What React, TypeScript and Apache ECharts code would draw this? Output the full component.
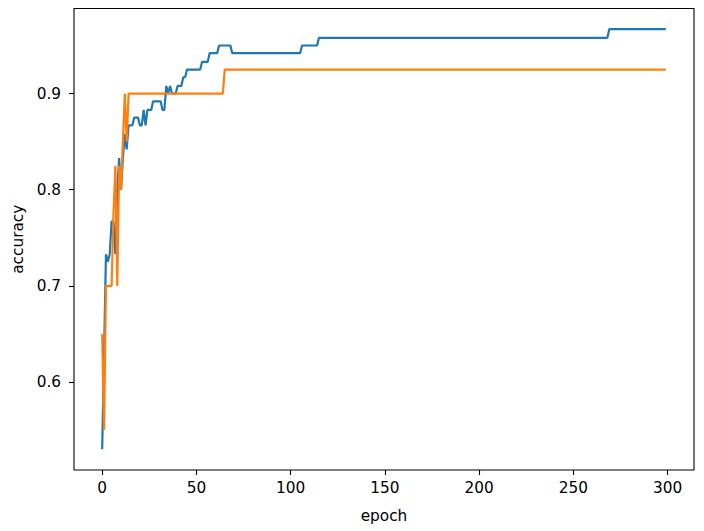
import React, { useEffect, useRef } from "react";
import * as echarts from "echarts";

// Change points of each curve: [epoch, accuracy]; straight lines between them
const blueEpochs = [0, 1, 2, 3, 4, 5, 6, 7, 8, 9, 10, 11, 12, 13, 14, 16, 17, 19, 20, 21, 22, 23, 24, 26, 27, 31, 32, 33, 34, 35, 36, 37, 39, 40, 42, 43, 44, 45, 52, 53, 56, 57, 61, 62, 68, 69, 105, 106, 114, 115, 268, 269, 299];
const blueAcc = [0.53, 0.63, 0.733, 0.725, 0.733, 0.767, 0.767, 0.733, 0.8, 0.833, 0.8, 0.833, 0.858, 0.842, 0.867, 0.867, 0.875, 0.875, 0.867, 0.867, 0.883, 0.867, 0.883, 0.883, 0.892, 0.892, 0.883, 0.883, 0.908, 0.9, 0.908, 0.9, 0.9, 0.908, 0.908, 0.917, 0.917, 0.925, 0.925, 0.933, 0.933, 0.942, 0.942, 0.95, 0.95, 0.942, 0.942, 0.95, 0.95, 0.958, 0.958, 0.967, 0.967];

const orangeEpochs = [0, 1, 2, 5, 6, 7, 8, 9, 10, 11, 12, 13, 14, 64, 65, 299];
const orangeAcc = [0.65, 0.55, 0.7, 0.7, 0.775, 0.825, 0.7, 0.825, 0.8, 0.85, 0.9, 0.85, 0.9, 0.9, 0.925, 0.925];

const xTicks = [0, 50, 100, 150, 200, 250, 300];
const yTicks = [0.6, 0.7, 0.8, 0.9];

const FONT = "DejaVu Sans";
const FS = 15.3;

export default function App() {
  const ref = useRef<HTMLDivElement>(null);
  useEffect(() => {
    if (!ref.current) return;
    const chart = echarts.init(ref.current, undefined, { renderer: "svg" });
    const blue = blueEpochs.map((e, i) => [e, blueAcc[i]]);
    const orange = orangeEpochs.map((e, i) => [e, orangeAcc[i]]);
    chart.setOption({
      animation: false,
      backgroundColor: "#ffffff",
      grid: {
        left: 74,
        right: 10,
        top: 8.5,
        bottom: 61,
        show: true,
        borderColor: "#000000",
        borderWidth: 1.1,
        backgroundColor: "transparent",
      },
      xAxis: {
        type: "value",
        min: -14.95,
        max: 313.95,
        name: "epoch",
        nameLocation: "middle",
        nameGap: 38,
        nameTextStyle: { fontFamily: FONT, fontSize: FS, color: "#000" },
        axisLine: { show: false, onZero: false },
        splitLine: { show: false },
        axisTick: {
          show: true,
          customValues: xTicks,
          length: 5,
          lineStyle: { color: "#000", width: 1.1 },
        },
        axisLabel: {
          customValues: xTicks,
          fontFamily: FONT,
          fontSize: FS,
          color: "#000",
          margin: 10,
        },
      },
      yAxis: {
        type: "value",
        min: 0.5085,
        max: 0.9885,
        name: "accuracy",
        nameLocation: "middle",
        nameGap: 48,
        nameRotate: 90,
        nameTextStyle: { fontFamily: FONT, fontSize: FS, color: "#000" },
        axisLine: { show: false, onZero: false },
        splitLine: { show: false },
        axisTick: {
          show: true,
          customValues: yTicks,
          length: 5,
          lineStyle: { color: "#000", width: 1.1 },
        },
        axisLabel: {
          customValues: yTicks,
          fontFamily: FONT,
          fontSize: FS,
          color: "#000",
          margin: 13,
          formatter: (v: number) => v.toFixed(1),
        },
      },
      series: [
        {
          type: "line",
          data: blue,
          showSymbol: false,
          lineStyle: { color: "#1f77b4", width: 2.2 },
          itemStyle: { color: "#1f77b4" },
        },
        {
          type: "line",
          data: orange,
          showSymbol: false,
          lineStyle: { color: "#ff7f0e", width: 2.2 },
          itemStyle: { color: "#ff7f0e" },
        },
      ],
    });
    return () => chart.dispose();
  }, []);
  return (
    <div
      ref={ref}
      style={{ position: "fixed", left: 0, top: 0, width: 704, height: 531, background: "#fff" }}
    />
  );
}
